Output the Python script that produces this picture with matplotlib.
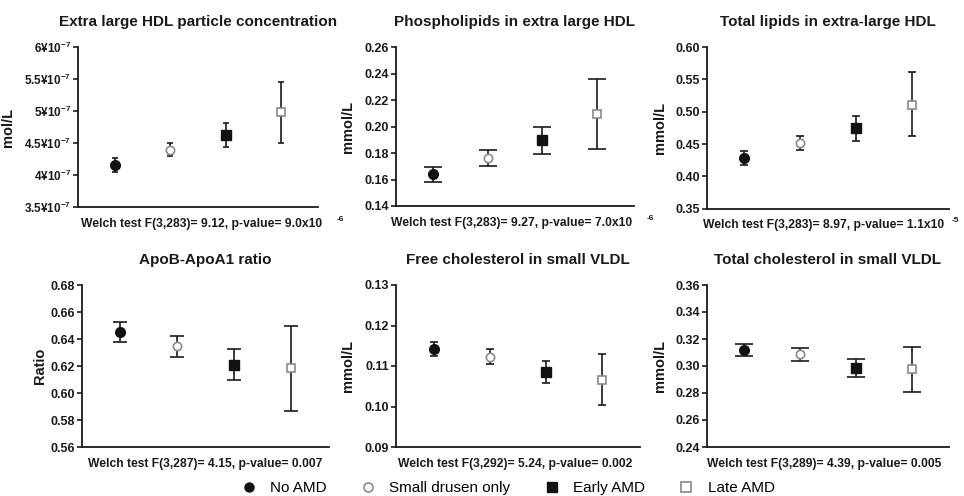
import numpy as np
import matplotlib
matplotlib.use('Agg')
import matplotlib.pyplot as plt
from matplotlib.lines import Line2D

plt.rcParams['font.family'] = ['Liberation Sans', 'DejaVu Sans']
plt.rcParams['mathtext.fontset'] = 'custom'
plt.rcParams['mathtext.rm'] = 'Liberation Sans'
plt.rcParams['mathtext.bf'] = 'Liberation Sans:bold'

# Data (mean, lower CI, upper CI per group)
groups = ['No AMD', 'Small drusen only', 'Early AMD', 'Late AMD']

titles = ['Extra large HDL particle concentration', 'Phospholipids in extra large HDL',
          'Total lipids in extra-large HDL', 'ApoB-ApoA1 ratio',
          'Free cholesterol in small VLDL', 'Total cholesterol in small VLDL']
ylabels = ['mol/L', 'mmol/L', 'mmol/L', 'Ratio', 'mmol/L', 'mmol/L']

xl_hdl_mean = [4.16e-7, 4.39e-7, 4.62e-7, 4.98e-7]
xl_hdl_low = [4.05e-7, 4.29e-7, 4.43e-7, 4.50e-7]
xl_hdl_high = [4.27e-7, 4.50e-7, 4.81e-7, 5.46e-7]

pl_mean = [0.164, 0.176, 0.1895, 0.2094]
pl_low = [0.1583, 0.170, 0.179, 0.183]
pl_high = [0.1697, 0.182, 0.200, 0.236]

tl_mean = [0.428, 0.452, 0.474, 0.511]
tl_low = [0.418, 0.441, 0.455, 0.462]
tl_high = [0.439, 0.463, 0.494, 0.561]

apo_mean = [0.645, 0.6345, 0.6211, 0.6182]
apo_low = [0.6377, 0.6268, 0.6097, 0.5870]
apo_high = [0.6525, 0.6422, 0.6327, 0.6500]

fc_mean = [0.1143, 0.1123, 0.1085, 0.1066]
fc_low = [0.1125, 0.1105, 0.1058, 0.1004]
fc_high = [0.1160, 0.1142, 0.1113, 0.1129]

tc_mean = [0.3119, 0.3088, 0.2984, 0.2977]
tc_low = [0.3073, 0.3040, 0.2918, 0.2804]
tc_high = [0.3164, 0.3132, 0.3051, 0.3144]

means = [xl_hdl_mean, pl_mean, tl_mean, apo_mean, fc_mean, tc_mean]
lows = [xl_hdl_low, pl_low, tl_low, apo_low, fc_low, tc_low]
highs = [xl_hdl_high, pl_high, tl_high, apo_high, fc_high, tc_high]

yticks = [
    [3.5e-7, 4e-7, 4.5e-7, 5e-7, 5.5e-7, 6e-7],
    [0.14, 0.16, 0.18, 0.20, 0.22, 0.24, 0.26],
    [0.35, 0.40, 0.45, 0.50, 0.55, 0.60],
    [0.56, 0.58, 0.60, 0.62, 0.64, 0.66, 0.68],
    [0.09, 0.10, 0.11, 0.12, 0.13],
    [0.24, 0.26, 0.28, 0.30, 0.32, 0.34, 0.36],
]
ytick_labels_p1 = ['3.5¥10$^{\\mathbf{-7}}$', '4¥10$^{\\mathbf{-7}}$', '4.5¥10$^{\\mathbf{-7}}$',
                   '5¥10$^{\\mathbf{-7}}$', '5.5¥10$^{\\mathbf{-7}}$', '6¥10$^{\\mathbf{-7}}$']

welch = ['Welch test F(3,283)= 9.12, p-value= 9.0x10',
         'Welch test F(3,283)= 9.27, p-value= 7.0x10',
         'Welch test F(3,283)= 8.97, p-value= 1.1x10',
         'Welch test F(3,287)= 4.15, p-value= 0.007',
         'Welch test F(3,292)= 5.24, p-value= 0.002',
         'Welch test F(3,289)= 4.39, p-value= 0.005']
welch_exp = ['-6', '-6', '-5', None, None, None]

# Layout (pixels in a 964x496 figure): left, top, right, bottom of each axes
W, H = 964, 496
boxes = [(78, 47, 318, 207), (396, 47, 634, 206), (707, 47, 949, 208.7),
         (82, 285, 329, 447), (396, 285, 640, 447), (707, 285, 949, 447)]
ylabel_x = [15, 355, 667, 47, 355, 667]
capsizes = [2.3, 6.8, 2.6, 5.2, 2.6, 6.8]
welch_dx = [4, -3, -4, 0, -3, -4]
exp_dx = [10, 10, 5, 0, 0, 0]

marker_style = [
    dict(marker='o', mfc='#111111', mec='#111111', ms=7),
    dict(marker='o', mfc='white', mec='#8a8a8a', ms=6, mew=1.2),
    dict(marker='s', mfc='#111111', mec='#111111', ms=7),
    dict(marker='s', mfc='white', mec='#8a8a8a', ms=6, mew=1.2),
]

fig = plt.figure(figsize=(W / 100, H / 100), dpi=100)
x = np.arange(len(groups))

for k in range(6):
    l, t, r, b = boxes[k]
    ax = fig.add_axes([l / W, 1 - b / H, (r - l) / W, (b - t) / H])
    m = np.array(means[k])
    lo = m - np.array(lows[k])
    hi = np.array(highs[k]) - m
    for i in range(len(groups)):
        ax.errorbar(x[i], m[i], yerr=[[lo[i]], [hi[i]]], fmt='none', ecolor='#1a1a1a',
                    elinewidth=1.2, capsize=capsizes[k], capthick=1.2, zorder=2)
        ax.plot(x[i], m[i], linestyle='none', zorder=3, **marker_style[i])
    ax.set_xlim(-0.67, 3.67)
    ax.set_ylim(yticks[k][0], yticks[k][-1])
    ax.set_yticks(yticks[k])
    if k == 0:
        ax.set_yticklabels(ytick_labels_p1)
    else:
        ax.set_yticklabels([f'{v:.2f}' for v in yticks[k]])
    ax.set_xticks([])
    for s in ['top', 'right']:
        ax.spines[s].set_visible(False)
    for s in ['left', 'bottom']:
        ax.spines[s].set_linewidth(1.3)
        ax.spines[s].set_color('#1a1a1a')
    ax.tick_params(axis='y', length=3.5, width=1.2, pad=1.5,
                   labelsize=8.5 if k == 0 else 9, colors='#1a1a1a')
    for lab in ax.get_yticklabels():
        lab.set_fontweight('bold')
    ax.set_title(titles[k], fontsize=11, fontweight='bold', pad=15, color='#1a1a1a')
    ax.set_ylabel(ylabels[k], fontsize=10.5, fontweight='bold', color='#1a1a1a')
    ax.yaxis.set_label_coords((ylabel_x[k] - l) / (r - l), 0.5)
    wt = ax.annotate(welch[k], xy=(0.5, 0), xycoords='axes fraction',
                     xytext=(welch_dx[k] * 0.72, -12),
                     textcoords='offset points', ha='center', va='center',
                     fontsize=8.7, fontweight='bold', color='#1a1a1a')
    if welch_exp[k]:
        ax.annotate(welch_exp[k], xy=(1, 1), xycoords=wt, xytext=(exp_dx[k], -1),
                    textcoords='offset points', ha='left', va='center',
                    fontsize=6, fontweight='bold', color='#1a1a1a')

handles = [Line2D([], [], linestyle='none', **marker_style[i]) for i in range(len(groups))]
for h in handles:
    h.set_markersize(6.5)
fig.legend(handles, groups, loc='center', bbox_to_anchor=(0.527, 1 - 488 / H), ncol=4,
           frameon=False, fontsize=11, handletextpad=0.9, columnspacing=2.2,
           handlelength=1.0, borderpad=0)

fig.savefig('out.png', dpi=100)
